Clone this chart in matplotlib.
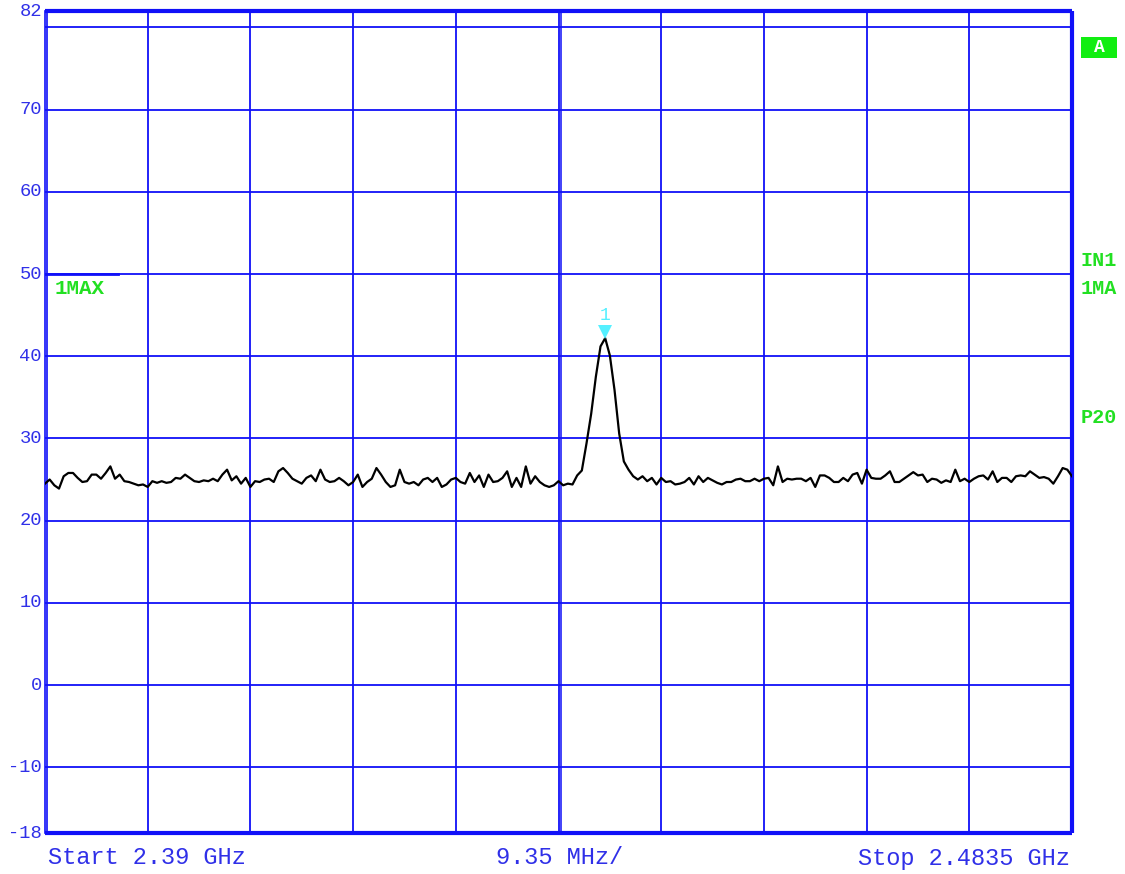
import numpy as np
import matplotlib
matplotlib.use("Agg")
import matplotlib.pyplot as plt
from matplotlib.transforms import offset_copy

# ---------------- data ----------------
start_mhz = 2390.0
stop_mhz = 2483.5
span_per_div = 9.35
fline_mhz = 2437.0
ref_level = 82
bottom_level = -18
y_tick_values = [82, 70, 60, 50, 40, 30, 20, 10, 0, -10, -18]
y_grid_values = [80, 70, 60, 50, 40, 30, 20, 10, 0, -10]

trace_levels = [
    24.5, 25.0, 24.3, 23.9, 25.4, 25.8, 25.8, 25.2, 24.7, 24.8,
    25.6, 25.6, 25.1, 25.8, 26.6, 25.1, 25.6, 24.8, 24.7, 24.5,
    24.3, 24.4, 24.1, 24.8, 24.6, 24.8, 24.6, 24.7, 25.2, 25.1,
    25.6, 25.2, 24.8, 24.7, 24.9, 24.8, 25.1, 24.8,
    25.6, 26.2, 24.9, 25.4, 24.5, 25.2, 24.1, 24.8, 24.7, 25.0,
    25.1, 24.7, 26.0, 26.4, 25.8, 25.1, 24.8, 24.5, 25.2, 25.5,
    24.8, 26.2, 25.0, 24.7, 24.8, 25.2, 24.8, 24.3, 24.7, 25.6,
    24.1, 24.7, 25.1, 26.4, 25.6, 24.7,
    24.1, 24.3, 26.2, 24.7, 24.5, 24.7, 24.3, 25.0, 25.2, 24.7,
    25.2, 24.1, 24.4, 25.0, 25.2, 24.7, 24.5, 25.8, 24.7, 25.5,
    24.1, 25.6, 24.7, 24.8, 25.2, 26.0, 24.1, 25.2, 24.1, 26.6,
    24.5, 25.4, 24.7, 24.3, 24.1, 24.3, 24.8, 24.3, 24.5,
    24.4, 25.5, 26.1, 29.4, 33.0, 37.5, 41.2, 42.2, 40.1, 35.9, 30.6, 27.2,
    26.2, 25.4, 25.0, 25.4, 24.8, 25.2, 24.4, 25.2, 24.7, 24.8,
    24.4, 24.5, 24.7, 25.2, 24.4, 25.4, 24.7, 25.2, 24.9, 24.6,
    24.4, 24.7, 24.7, 25.0, 25.1, 24.8, 24.8, 25.1, 24.8, 25.1,
    25.2, 24.3, 26.6, 24.7, 25.1, 25.0, 25.1,
    25.1, 24.8, 25.2, 24.1, 25.5, 25.5, 25.2, 24.7, 24.7, 25.2,
    24.8, 25.6, 25.8, 24.5, 26.2, 25.2, 25.1, 25.1, 25.5, 26.0,
    24.7, 24.7, 25.1, 25.5, 25.9, 25.5, 25.6, 24.7, 25.1, 25.0,
    24.6, 24.9, 24.7, 26.2, 24.8, 25.1, 24.7, 25.1,
    25.4, 25.5, 25.0, 26.0, 24.7, 25.2, 25.2, 24.7, 25.4, 25.5,
    25.4, 26.0, 25.6, 25.2, 25.3, 25.1, 24.5, 25.4, 26.4, 26.2, 25.4,
]

start_label = "Start 2.39 GHz"
span_label = "9.35 MHz/"
stop_label = "Stop 2.4835 GHz"
marker_label = "1"
left_trace_label = "1MAX"
right_labels = [("IN1", 261), ("1MA", 288), ("P20", 417)]
box_label = "A"

# ---------------- style ----------------
W, H = 1125, 874
BLUE = "#1010f8"
TXT_BLUE = "#3030e8"
GREEN = "#22e022"
CYAN = "#55f0ff"
MONO = ["Liberation Mono", "DejaVu Sans Mono"]

fig = plt.figure(figsize=(W / 100, H / 100), dpi=100)
ax_l, ax_r, ax_t, ax_b = 45, 1072, 11, 833
ax = fig.add_axes([ax_l / W, 1 - ax_b / H, (ax_r - ax_l) / W, (ax_b - ax_t) / H])
ax.set_xlim(start_mhz, stop_mhz)
ax.set_ylim(bottom_level, ref_level)
for s in ax.spines.values():
    s.set_visible(False)
ax.set_xticks([])
ax.set_yticks([])

# grid
for v in y_grid_values:
    ax.axhline(v, color=BLUE, lw=1.3, zorder=1)
n_div = int(round((stop_mhz - start_mhz) / span_per_div))
for k in range(1, n_div):
    ax.axvline(start_mhz + k * span_per_div, color=BLUE, lw=1.3, zorder=1)
ax.axvline(fline_mhz, color=BLUE, lw=1.1, zorder=1)

# frame
ax.plot([0, 1], [1, 1], transform=ax.transAxes, color=BLUE, lw=3.0, clip_on=False, zorder=3, solid_capstyle="butt")
ax.plot([1, 1], [0, 1], transform=ax.transAxes, color=BLUE, lw=3.0, clip_on=False, zorder=3, solid_capstyle="butt")
ax.plot([0, 1], [0, 0], transform=ax.transAxes, color=BLUE, lw=3.0, clip_on=False, zorder=3, solid_capstyle="butt")
ax.plot([0, 0], [0, 1], transform=ax.transAxes, color=BLUE, lw=1.2, clip_on=False, zorder=3)
ax.plot([2 / (ax_r - ax_l)] * 2, [0, 1], transform=ax.transAxes, color=BLUE, lw=1.2, clip_on=False, zorder=3)
# display line segment near 50
ax.plot([0, 73 / (ax_r - ax_l)], [50, 50], transform=ax.get_yaxis_transform(), color=BLUE, lw=2.0, zorder=3)

# trace
levels = np.array(trace_levels)
freqs = np.linspace(start_mhz, stop_mhz, len(levels))
ax.plot(freqs, levels, color="black", lw=1.6, zorder=4)

# marker
imax = int(np.argmax(levels))
mk_tr = offset_copy(ax.transData, fig=fig, x=0, y=6, units="dots")
ax.plot([freqs[imax]], [levels[imax]], marker="v", markersize=10, color=CYAN,
        markeredgewidth=0, transform=mk_tr, zorder=5, clip_on=False)
ax.annotate(marker_label, (freqs[imax], levels[imax]), xytext=(0, 14), textcoords="offset pixels",
            ha="center", va="bottom", color=CYAN, fontsize=13, family=MONO)

# y tick labels
for v in y_tick_values:
    ypx = ax_t + (ref_level - v) / (ref_level - bottom_level) * (ax_b - ax_t)
    fig.text(42 / W, 1 - ypx / H, str(v),
             ha="right", va="center", color=TXT_BLUE, fontsize=13.5, family=MONO)

# bottom labels
fig.text(48 / W, 1 - 858 / H, start_label, ha="left", va="center", color=TXT_BLUE, fontsize=17, family=MONO)
fig.text(496 / W, 1 - 858 / H, span_label, ha="left", va="center", color=TXT_BLUE, fontsize=17, family=MONO)
fig.text(1070 / W, 1 - 858 / H, stop_label, ha="right", va="center", color=TXT_BLUE, fontsize=17, family=MONO)

# green labels
fig.text(55 / W, 1 - 289 / H, left_trace_label, ha="left", va="center", color=GREEN,
         fontsize=15, family=MONO, fontweight="bold")
for lab, ypx in right_labels:
    fig.text(1081 / W, 1 - ypx / H, lab, ha="left", va="center", color=GREEN,
             fontsize=14.5, family=MONO, fontweight="bold")
fig.patches.append(plt.Rectangle((1081 / W, 1 - 58 / H), 36 / W, 21 / H, transform=fig.transFigure,
                                 facecolor="#11ee11", edgecolor="none"))
fig.text(1099 / W, 1 - 47.5 / H, box_label, ha="center", va="center", color="white",
         fontsize=13, family=MONO, fontweight="bold")

fig.savefig("out.png", dpi=100)
